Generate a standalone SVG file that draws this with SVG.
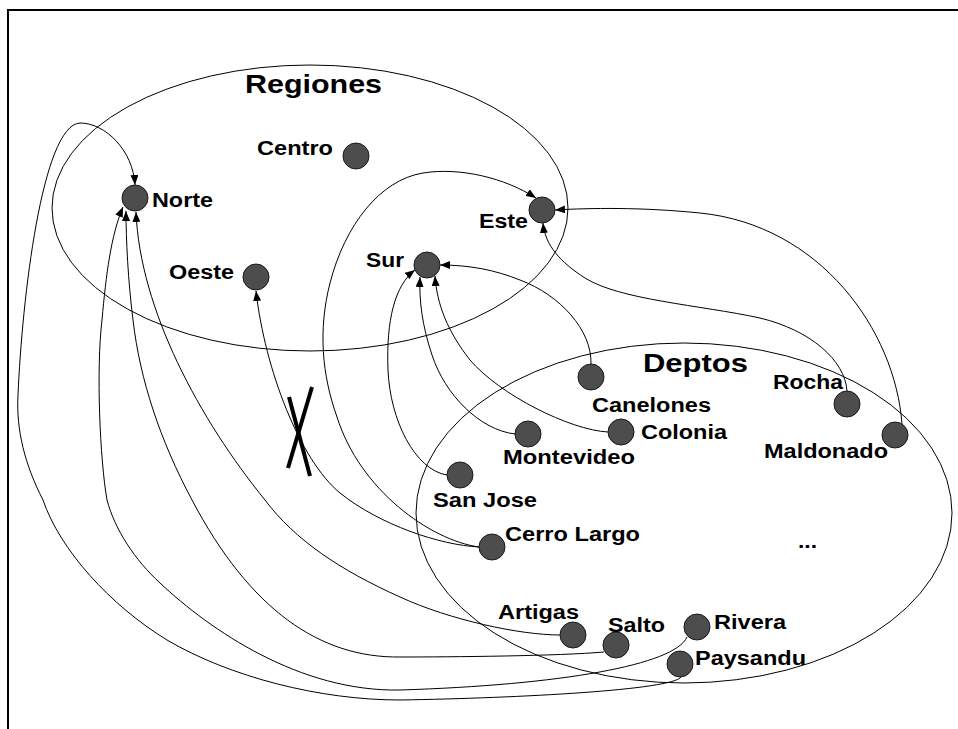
<svg xmlns="http://www.w3.org/2000/svg" width="958" height="729" viewBox="0 0 958 729">
  <defs>
    <marker id="arrow" markerUnits="userSpaceOnUse" markerWidth="10" markerHeight="8" refX="10" refY="4" orient="auto">
      <path d="M0,0 L10,4 L0,8 z" fill="#000"/>
    </marker>
    <style>
      .frame { fill: none; stroke: #000; stroke-width: 2; }
      .set { fill: none; stroke: #000; stroke-width: 1; }
      .dot { fill: #4d4d4d; stroke: #1a1a1a; stroke-width: 1; }
      .lbl { font-family: "Liberation Sans", Arial, sans-serif; font-weight: bold; font-size: 20px; fill: #000; }
      .title { font-family: "Liberation Sans", Arial, sans-serif; font-weight: bold; font-size: 26px; fill: #000; }
      .edge { fill: none; stroke: #000; stroke-width: 1; marker-end: url(#arrow); }
      .cross { stroke: #000; stroke-width: 4; }
    </style>
  </defs>

  <rect class="frame" x="8" y="10" width="960" height="730"/>

  <!-- sets -->
  <g id="regiones">
    <ellipse class="set" cx="310" cy="208" rx="258" ry="143"/>
    <text class="title" x="245" y="93" textLength="137" lengthAdjust="spacingAndGlyphs">Regiones</text>
  </g>
  <g id="deptos">
    <ellipse class="set" cx="684" cy="513" rx="268" ry="170"/>
    <text class="title" x="643" y="372" textLength="105" lengthAdjust="spacingAndGlyphs">Deptos</text>
  </g>

  <!-- connectors -->
  <g id="connectors">
    <path class="edge" d="M681,677 C672,690 520,698 400,700 C320,700 230,677 167,640 C110,605 60,550 43,500 C25,465 16,430 18,395 C22,300 42,125 80,123 C105,123 133,150 135,185"/>
    <path class="edge" d="M687,637 C675,665 560,685 400,690 C300,692 210,630 160,583 C135,560 115,530 107,500 C100,460 96,370 102,320 C106,275 111,235 123,207"/>
    <path class="edge" d="M604,652 C560,656 450,657 400,657 C320,658 250,610 192,500 C160,440 140,380 133,320 C128,280 126,240 126,211"/>
    <path class="edge" d="M560,635 C520,635 450,620 400,597 C340,570 295,540 265,500 C200,420 140,310 136,212"/>
    <path class="edge" d="M479,547 C440,545 380,525 340,493 C300,460 265,370 256,291"/>
    <path class="edge" d="M479,547 C430,540 360,490 337,417 C322,375 318,330 330,283 C345,225 380,180 423,173 C460,167 505,178 536,198"/>
    <path class="edge" d="M447,475 C415,470 390,420 388,370 C386,320 395,285 415,270"/>
    <path class="edge" d="M515,434 C480,430 445,395 432,355 C422,325 419,300 420,277"/>
    <path class="edge" d="M608,432 C570,430 500,395 470,360 C448,332 437,305 435,276"/>
    <path class="edge" d="M591,364 C592,330 560,295 520,280 C495,270 470,265 440,265"/>
    <path class="edge" d="M847,391 C845,360 810,330 760,318 C700,305 620,300 585,278 C560,262 545,245 543,223"/>
    <path class="edge" d="M902,424 C895,330 820,225 700,213 C640,207 590,208 555,210"/>
    <!-- crossed-out link -->
    <line class="cross" x1="312" y1="387" x2="288" y2="468"/>
    <line class="cross" x1="289" y1="397" x2="310" y2="476"/>
  </g>

  <!-- region nodes -->
  <g id="norte"><circle class="dot" cx="135" cy="198" r="13"/><text class="lbl" x="152" y="207" textLength="61" lengthAdjust="spacingAndGlyphs">Norte</text></g>
  <g id="centro"><circle class="dot" cx="356" cy="156" r="13"/><text class="lbl" x="257" y="155" textLength="76" lengthAdjust="spacingAndGlyphs">Centro</text></g>
  <g id="oeste"><circle class="dot" cx="256" cy="277" r="13"/><text class="lbl" x="169" y="279" textLength="65" lengthAdjust="spacingAndGlyphs">Oeste</text></g>
  <g id="este"><circle class="dot" cx="542" cy="210" r="13"/><text class="lbl" x="479" y="228" textLength="49" lengthAdjust="spacingAndGlyphs">Este</text></g>
  <g id="sur"><circle class="dot" cx="427" cy="265" r="13"/><text class="lbl" x="366" y="267" textLength="38" lengthAdjust="spacingAndGlyphs">Sur</text></g>

  <!-- department nodes -->
  <g id="canelones"><circle class="dot" cx="591" cy="377" r="13"/><text class="lbl" x="592" y="412" textLength="119" lengthAdjust="spacingAndGlyphs">Canelones</text></g>
  <g id="rocha"><circle class="dot" cx="847" cy="404" r="13"/><text class="lbl" x="773" y="389" textLength="70" lengthAdjust="spacingAndGlyphs">Rocha</text></g>
  <g id="colonia"><circle class="dot" cx="621" cy="432" r="13"/><text class="lbl" x="641" y="439" textLength="86" lengthAdjust="spacingAndGlyphs">Colonia</text></g>
  <g id="montevideo"><circle class="dot" cx="528" cy="434" r="13"/><text class="lbl" x="503" y="464" textLength="132" lengthAdjust="spacingAndGlyphs">Montevideo</text></g>
  <g id="maldonado"><circle class="dot" cx="895" cy="435" r="13"/><text class="lbl" x="764" y="458" textLength="124" lengthAdjust="spacingAndGlyphs">Maldonado</text></g>
  <g id="sanjose"><circle class="dot" cx="460" cy="475" r="13"/><text class="lbl" x="433" y="507" textLength="104" lengthAdjust="spacingAndGlyphs">San Jose</text></g>
  <g id="cerrolargo"><circle class="dot" cx="492" cy="547" r="13"/><text class="lbl" x="505" y="541" textLength="135" lengthAdjust="spacingAndGlyphs">Cerro Largo</text></g>
  <g id="etc"><text class="lbl" x="798" y="548" textLength="19" lengthAdjust="spacingAndGlyphs">...</text></g>
  <g id="artigas"><circle class="dot" cx="573" cy="635" r="13"/><text class="lbl" x="498" y="619" textLength="81" lengthAdjust="spacingAndGlyphs">Artigas</text></g>
  <g id="salto"><circle class="dot" cx="616" cy="645" r="13"/><text class="lbl" x="608" y="632" textLength="57" lengthAdjust="spacingAndGlyphs">Salto</text></g>
  <g id="rivera"><circle class="dot" cx="697" cy="627" r="13"/><text class="lbl" x="714" y="629" textLength="72" lengthAdjust="spacingAndGlyphs">Rivera</text></g>
  <g id="paysandu"><circle class="dot" cx="680" cy="664" r="13"/><text class="lbl" x="695" y="665" textLength="111" lengthAdjust="spacingAndGlyphs">Paysandu</text></g>
</svg>
